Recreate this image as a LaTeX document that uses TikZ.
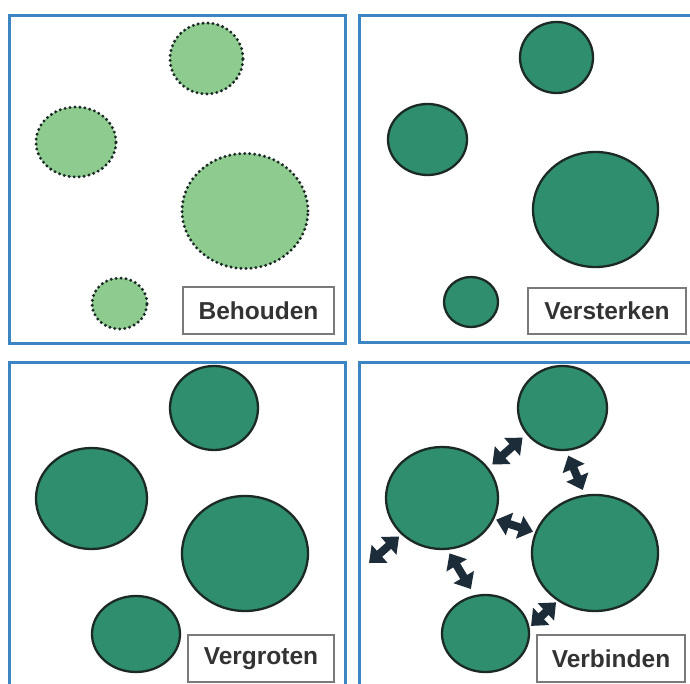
\documentclass[tikz,border=0pt]{standalone}
\usepackage{fontspec}
\setmainfont{Liberation Sans}
\usetikzlibrary{shapes.geometric,arrows.meta}
\definecolor{frameblue}{HTML}{3B86C2}
\definecolor{lightgreen}{HTML}{8DCB8E}
\definecolor{darkgreen}{HTML}{2F8E6D}
\definecolor{outlinec}{HTML}{1C2A26}
\definecolor{arrowc}{HTML}{1D2C39}
\definecolor{labeltext}{HTML}{333333}
\definecolor{labelframe}{HTML}{7A7A7A}
\begin{document}
\begin{tikzpicture}[x=1pt,y=-1pt,
  panel/.style={draw=frameblue,line width=3pt},
  blob/.style={ellipse,inner sep=0pt,fill=darkgreen,draw=outlinec,line width=2.3pt},
  softblob/.style={ellipse,inner sep=0pt,fill=lightgreen,draw=outlinec,line width=3.3pt,dash pattern=on 0pt off 5pt,line cap=round},
  tag/.style={draw=labelframe,line width=1.1pt,fill=white,font=\fontsize{24.5}{28}\selectfont\bfseries,text=labeltext,inner sep=0pt},
  link/.style={draw=arrowc,line width=8pt,{Triangle[width=23pt,length=14pt]}-{Triangle[width=23pt,length=14pt]},shorten <=4pt,shorten >=4pt}]
\useasboundingbox (0,0) rectangle (690,684);
\clip (0,0) rectangle (690,684);
\fill[white] (0,0) rectangle (690,684);
% panels
\draw[panel] (9,16) rectangle (345,343);
\draw[panel] (359,16) rectangle (700,342);
\draw[panel] (9,362) rectangle (345,700);
\draw[panel] (359,362) rectangle (700,700);
% panel 1
\node[softblob,minimum width=73pt,minimum height=71pt] (a1) at (206.5,58.5) {};
\node[softblob,minimum width=80pt,minimum height=70pt] (a2) at (76,142) {};
\node[softblob,minimum width=126pt,minimum height=115pt] (a3) at (245,211) {};
\node[softblob,minimum width=55pt,minimum height=51pt] (a4) at (119.5,303.5) {};
\node[tag,minimum width=151pt,minimum height=47pt] (l1) at (258.5,310.5) {Behouden};
% panel 2
\node[blob,minimum width=73pt,minimum height=71pt] (b1) at (556.5,57.5) {};
\node[blob,minimum width=79pt,minimum height=71pt] (b2) at (427.5,139.5) {};
\node[blob,minimum width=125pt,minimum height=115pt] (b3) at (595.5,209.5) {};
\node[blob,minimum width=54pt,minimum height=50pt] (b4) at (471,302) {};
\node[tag,minimum width=158pt,minimum height=46pt] (l2) at (607,311) {Versterken};
% panel 3
\node[blob,minimum width=88pt,minimum height=84pt] (c1) at (214,408) {};
\node[blob,minimum width=111pt,minimum height=101pt] (c2) at (91.5,498.5) {};
\node[blob,minimum width=126pt,minimum height=115pt] (c3) at (245,553.5) {};
\node[blob,minimum width=88pt,minimum height=76pt] (c4) at (136,634) {};
\node[tag,minimum width=146pt,minimum height=47pt] (l3) at (261,658.5) {Vergroten};
% panel 4
\node[blob,minimum width=89pt,minimum height=84pt] (d1) at (562.5,408) {};
\node[blob,minimum width=112pt,minimum height=102pt] (d2) at (442,498) {};
\node[blob,minimum width=87pt,minimum height=77pt] (d3) at (485.5,633.5) {};
\node[blob,minimum width=126pt,minimum height=116pt] (d4) at (595,553) {};
\node[tag,minimum width=148pt,minimum height=47pt] (l4) at (611,658.5) {Verbinden};
\coordinate (out) at (369,563);
% arrows
\draw[link,shorten <=5pt,shorten >=5pt] (d2.33) -- (d1.-144);
\draw[link,shorten <=5pt,shorten >=5pt] (d1.-85) -- (d4.100);
\draw[link,shorten <=2pt,shorten >=2pt] (d2.-22) -- (d4.161);
\draw[link,shorten <=3pt,shorten >=0pt] (d2.-138) -- (out);
\draw[link,shorten <=4pt,shorten >=7pt] (d2.-84) -- (d3.106);
\draw[link,shorten <=2pt,shorten >=2pt] (d3.8) -- (d4.-128);
\end{tikzpicture}
\end{document}
